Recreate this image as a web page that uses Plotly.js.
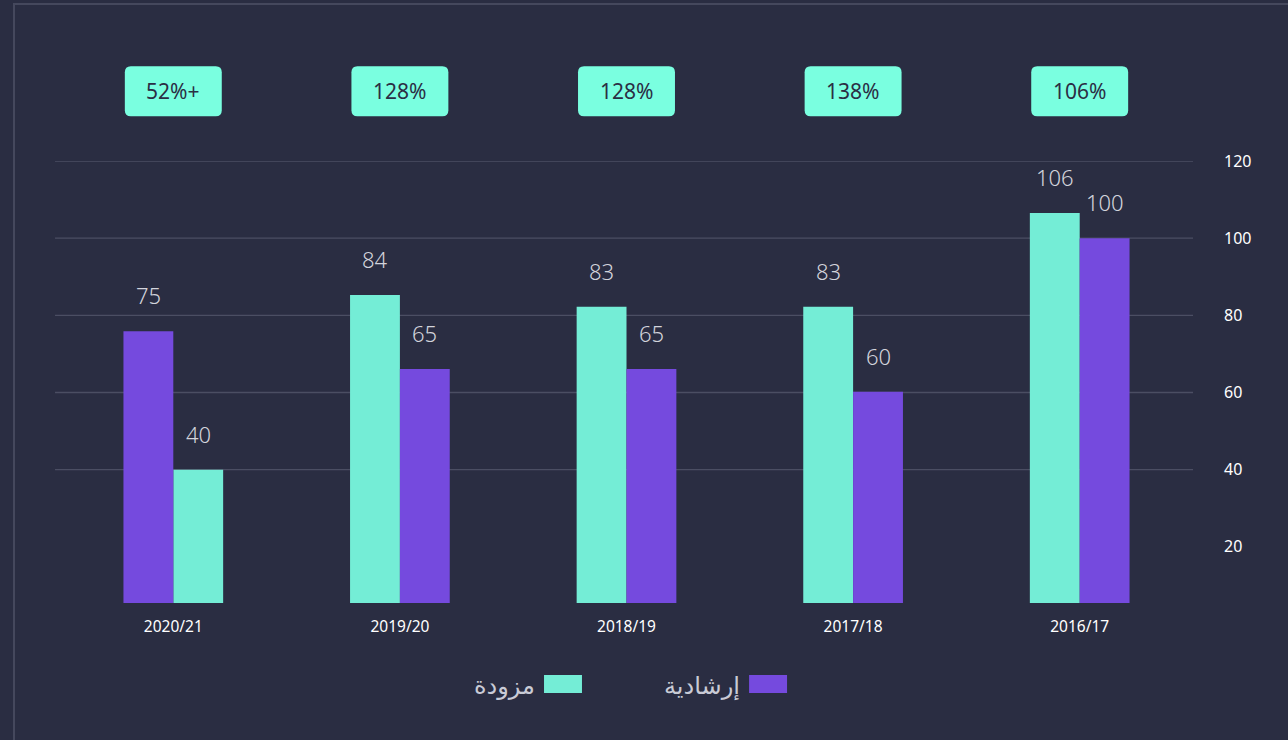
<!DOCTYPE html>
<html>
<head>
<meta charset="utf-8">
<script src="https://cdn.plot.ly/plotly-3.0.1.min.js"></script>
<style>
  html, body { margin: 0; padding: 0; background: #2a2d42; overflow: hidden; }
  #chart { width: 1288px; height: 740px; }
  #frame { position: absolute; left: 13px; top: 3px; width: 1290px; height: 750px;
           border-left: 2px solid #45485d; border-top: 2px solid #45485d; pointer-events: none; }
</style>
</head>
<body>
<div id="chart"></div>
<div id="frame"></div>
<script>
// ---- data ----
const categories = ["2020/21", "2019/20", "2018/19", "2017/18", "2016/17"];
const greenName = "مزودة";
const purpleName = "إرشادية";
const greenValues = [40, 85.3, 82.2, 82.2, 106.5];
const purpleValues = [75.9, 66.1, 66.1, 60.2, 100];
const greenLabels = ["40", "84", "83", "83", "106"];
const purpleLabels = ["75", "65", "65", "60", "100"];
const badgeLabels = ["52%+", "128%", "128%", "138%", "106%"];
const yTicks = [20, 40, 60, 80, 100, 120];
const gridValues = [40, 60, 80, 100, 120];

// ---- style ----
const GREEN = "#74edd6";
const PURPLE = "#754ade";
const BADGE = "#7affe0";
const BG = "#2a2d42";
const W = 0.22;
// first group has purple on the left, other groups green on the left
const greenOffset = categories.map((c, i) => i === 0 ? 0 : -W);
const purpleOffset = categories.map((c, i) => i === 0 ? -W : 0);

const traces = [
  { type: "bar", name: greenName, x: categories, y: greenValues,
    marker: { color: GREEN }, width: W, offset: greenOffset, hoverinfo: "skip", showlegend: false },
  { type: "bar", name: purpleName, x: categories, y: purpleValues,
    marker: { color: PURPLE }, width: W, offset: purpleOffset, hoverinfo: "skip", showlegend: false }
];

const labelFont = { family: "Noto Sans, DejaVu Sans, sans-serif", size: 22, color: "#d3d4dc", weight: 300 };
const annotations = [];
const shapes = [];
// badge geometry (category units / paper units)
const BX = 0.2139, BR = 0.0265, BYC = 1.158, BH = 0.0566, BRY = 0.0136;
categories.forEach((c, i) => {
  annotations.push({ xref: "x", yref: "y", x: i + greenOffset[i] + W / 2, y: greenValues[i],
    text: greenLabels[i], showarrow: false, yanchor: "bottom", yshift: 19, font: labelFont });
  annotations.push({ xref: "x", yref: "y", x: i + purpleOffset[i] + W / 2, y: purpleValues[i],
    text: purpleLabels[i], showarrow: false, yanchor: "bottom", yshift: 19, font: labelFont });
  annotations.push({ xref: "x", yref: "paper", x: i, y: BYC, yanchor: "middle",
    text: badgeLabels[i], showarrow: false,
    font: { family: "Noto Sans, sans-serif", size: 21, color: "#2b2e44" } });
  const x0 = i - BX, x1 = i + BX, y0 = BYC - BH, y1 = BYC + BH;
  const path = `M ${x0 + BR},${y0} L ${x1 - BR},${y0} Q ${x1},${y0} ${x1},${y0 + BRY} ` +
    `L ${x1},${y1 - BRY} Q ${x1},${y1} ${x1 - BR},${y1} L ${x0 + BR},${y1} Q ${x0},${y1} ${x0},${y1 - BRY} ` +
    `L ${x0},${y0 + BRY} Q ${x0},${y0} ${x0 + BR},${y0} Z`;
  shapes.push({ type: "path", xref: "x", yref: "paper", path: path, fillcolor: BADGE, line: { width: 0 } });
});
// custom legend texts (label to the left of the swatch)
const legendFont = { family: "Noto Sans, DejaVu Sans, sans-serif", size: 24, color: "#c9cbd6" };
annotations.push({ xref: "paper", yref: "paper", x: 0.421, y: -0.185, xanchor: "right", yanchor: "middle",
  text: greenName, showarrow: false, font: legendFont });
annotations.push({ xref: "paper", yref: "paper", x: 0.602, y: -0.185, xanchor: "right", yanchor: "middle",
  text: purpleName, showarrow: false, font: legendFont });

gridValues.forEach(v => shapes.push({
  type: "line", xref: "paper", yref: "y", x0: -0.0044, x1: 1, y0: v, y1: v,
  line: { color: "#4b4e63", width: 1.3 }, layer: "below"
}));
shapes.push({ type: "rect", xref: "paper", yref: "paper", x0: 0.4272, x1: 0.4607, y0: -0.2036, y1: -0.1629,
  fillcolor: GREEN, line: { width: 0 } });
shapes.push({ type: "rect", xref: "paper", yref: "paper", x0: 0.6082, x1: 0.6417, y0: -0.2036, y1: -0.1629,
  fillcolor: PURPLE, line: { width: 0 } });

const layout = {
  width: 1288, height: 740,
  paper_bgcolor: BG, plot_bgcolor: BG,
  margin: { l: 60, r: 95, t: 161, b: 137 },
  barmode: "overlay",
  showlegend: false,
  xaxis: { type: "category", range: [-0.5, 4.5], showgrid: false, zeroline: false, showline: false,
    ticks: "", ticklabelstandoff: 12,
    tickfont: { family: "Noto Sans, sans-serif", size: 15.5, color: "#ffffff" } },
  yaxis: { side: "right", range: [5.45, 120], tickvals: yTicks, ticktext: yTicks.map(String),
    showgrid: false, zeroline: false, showline: false, ticks: "", ticklabelstandoff: 30,
    tickfont: { family: "Noto Sans, sans-serif", size: 16, color: "#ffffff" } },
  annotations: annotations,
  shapes: shapes
};

Plotly.newPlot("chart", traces, layout, { displayModeBar: false, staticPlot: true });
</script>
</body>
</html>
